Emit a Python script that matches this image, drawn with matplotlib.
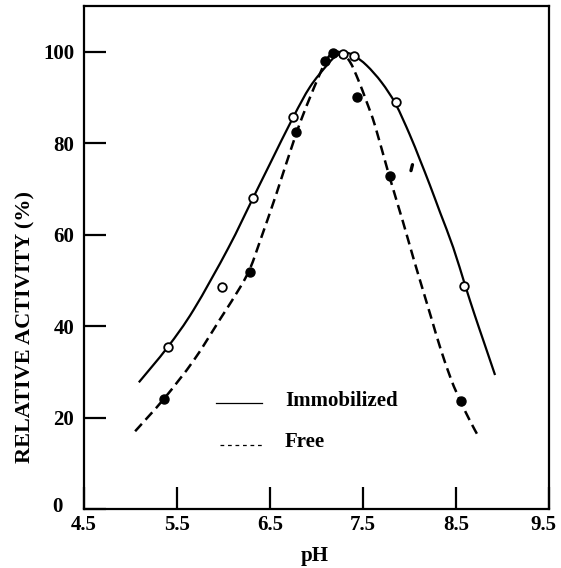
import matplotlib
matplotlib.use("Agg")
import matplotlib.pyplot as plt
import matplotlib.transforms as mtransforms
from matplotlib.path import Path
from matplotlib.patches import PathPatch

# ---- data ----
imm_ph = [5.40, 5.98, 6.32, 6.75, 7.28, 7.40, 7.85, 8.59]
imm_act = [35.4, 48.5, 68.1, 85.7, 99.6, 99.0, 89.0, 48.8]

free_ph = [5.36, 6.29, 6.78, 7.09, 7.18, 7.44, 7.79, 8.55]
free_act = [24.1, 51.8, 82.4, 97.9, 99.8, 90.0, 72.8, 23.6]

imm_curve_ph = [5.09, 5.40, 5.68, 6.05, 6.32, 6.50, 6.75, 6.93, 7.11, 7.20, 7.30,
                7.40, 7.54, 7.70, 7.85, 8.00, 8.11, 8.22, 8.33, 8.47, 8.60, 8.70,
                8.80, 8.92]
imm_curve_act = [27.7, 35.4, 43.6, 57.0, 68.1, 75.5, 85.7, 92.3, 97.0, 98.9, 99.8,
                 99.2, 97.0, 93.3, 88.6, 82.0, 76.5, 70.8, 64.8, 57.2, 48.8, 42.5,
                 36.5, 29.3]

free_curve_ph = [5.05, 5.36, 5.68, 5.96, 6.18, 6.29, 6.40, 6.57, 6.78, 6.93, 7.09,
                 7.18, 7.27, 7.36, 7.45, 7.54, 7.63, 7.78, 7.93, 8.04, 8.15, 8.24,
                 8.33, 8.45, 8.55, 8.65, 8.74]
free_curve_act = [17.0, 24.1, 32.5, 41.4, 48.5, 52.8, 59.0, 69.0, 82.0, 90.0, 97.5,
                  99.8, 99.7, 97.8, 93.8, 89.0, 83.8, 73.0, 62.8, 55.0, 47.5, 41.4,
                  35.3, 28.2, 23.5, 19.3, 15.9]

stray_ph = [8.016, 8.032]
stray_act = [74.0, 75.3]

xticks = [4.5, 5.5, 6.5, 7.5, 8.5, 9.5]
xticklabels = ["4.5", "5.5", "6.5", "7.5", "8.5", "9.5"]
yticks = [0, 20, 40, 60, 80, 100]
yticklabels = ["0", "20", "40", "60", "80", "100"]

legend_labels = ["Immobilized", "Free"]


def smooth_path(xs, ys):
    """Path through the read points, drawn by matplotlib as cubic Bezier segments."""
    pts = list(zip(xs, ys))
    n = len(pts)
    verts = [pts[0]]
    codes = [Path.MOVETO]
    for i in range(n - 1):
        p0 = pts[i - 1] if i > 0 else pts[i]
        p1 = pts[i]
        p2 = pts[i + 1]
        p3 = pts[i + 2] if i + 2 < n else pts[i + 1]
        c1 = (p1[0] + (p2[0] - p0[0]) / 6.0, p1[1] + (p2[1] - p0[1]) / 6.0)
        c2 = (p2[0] - (p3[0] - p1[0]) / 6.0, p2[1] - (p3[1] - p1[1]) / 6.0)
        verts += [c1, c2, p2]
        codes += [Path.CURVE4] * 3
    return Path(verts, codes)


# ---- figure ----
plt.rcParams['font.family'] = ['Liberation Serif', 'DejaVu Serif']
plt.rcParams['font.weight'] = 'bold'

fig = plt.figure(figsize=(5.61, 5.68), dpi=100)
ax = fig.add_axes([0.1497, 0.1039, 0.9786 - 0.1497, 0.9894 - 0.1039])

ax.add_patch(PathPatch(smooth_path(imm_curve_ph, imm_curve_act), fill=False,
                       edgecolor='black', lw=1.6, capstyle='butt'))
ax.add_patch(PathPatch(smooth_path(free_curve_ph, free_curve_act), fill=False,
                       edgecolor='black', lw=1.8, linestyle=(0, (4, 2.2)), capstyle='butt'))
ax.plot(stray_ph, stray_act, color='black', lw=2.4, solid_capstyle='round')

ax.plot(free_ph, free_act, 'o', ms=6.5, mfc='black', mec='black', mew=1.0, zorder=4)
ax.plot(imm_ph, imm_act, 'o', ms=6.2, mfc='white', mec='black', mew=1.3, zorder=5)

# hand-drawn style legend
ax.plot([5.92, 6.41], [23.2, 23.2], color='black', lw=0.9)
ax.plot([5.96, 6.41], [14.1, 14.1], color='black', lw=0.9, linestyle=(0, (3, 3)))
ax.text(6.66, 23.6, legend_labels[0], fontsize=15, fontweight='bold', va='center', ha='left')
ax.text(6.66, 14.6, legend_labels[1], fontsize=15, fontweight='bold', va='center', ha='left')

ax.set_xlim(4.5, 9.5)
ax.set_ylim(0, 110)
ax.set_xticks(xticks)
ax.set_xticklabels(xticklabels, fontsize=15, fontweight='bold')
ax.set_yticks(yticks)
ax.set_yticklabels(yticklabels, fontsize=15, fontweight='bold')
ax.tick_params(axis='both', direction='in', length=16, width=1.6)
ax.tick_params(axis='x', pad=4)
ax.tick_params(axis='y', pad=7)
for s in ax.spines.values():
    s.set_linewidth(1.6)

# the "0" label sits further left and a little higher in the reference
zero_lbl = ax.get_yticklabels()[0]
zero_lbl.set_transform(zero_lbl.get_transform() +
                       mtransforms.ScaledTranslation(-12 / 100, 4 / 100, fig.dpi_scale_trans))
last_x = ax.get_xticklabels()[-1]
last_x.set_transform(last_x.get_transform() +
                     mtransforms.ScaledTranslation(-6 / 100, 0, fig.dpi_scale_trans))

fig.text(315 / 561, 1 - 556 / 568, "pH", fontsize=15, fontweight='bold', ha='center', va='center')
fig.text(25 / 561, 1 - 327 / 568, "RELATIVE ACTIVITY (%)", fontsize=16, fontweight='bold',
         rotation=90, ha='center', va='center')

fig.savefig("out.png", dpi=100)
